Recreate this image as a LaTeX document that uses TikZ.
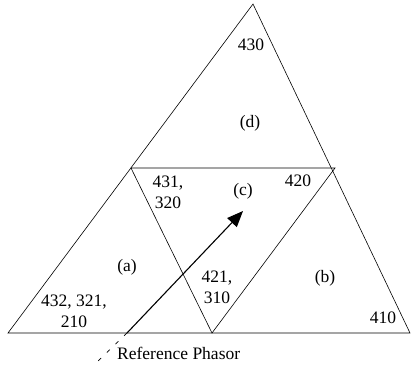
\documentclass[tikz,border=0pt]{standalone}
\usepackage{fontspec}
\setmainfont{Liberation Serif}
\usetikzlibrary{arrows.meta}

\begin{document}
\begin{tikzpicture}[x=1pt,y=-1pt,
  lbl/.style={font=\fontsize{17.5}{21}\selectfont,align=center,inner sep=0pt},
  side/.style={line width=0.6pt}]
  \useasboundingbox (0,0) rectangle (413,368);
  % corners of the triangles
  \coordinate (top) at (253,4);
  \coordinate (bl) at (8,333);
  \coordinate (br) at (410,333);
  \coordinate (ml) at (131,168);
  \coordinate (mr) at (335,168);
  \coordinate (bm) at (212,333);
  % phasor
  \coordinate (tail) at (127,333);
  \coordinate (head) at (243,211);
  \coordinate (far) at (93,366);
  \draw[side] (top) -- (br) -- (bl) -- cycle;
  \draw[side] (ml) -- (mr) -- (bm) -- cycle;
  \draw[-{Triangle[length=16pt,width=13pt]},line width=1.1pt] (tail) -- (head);
  \draw[line width=0.7pt,dash pattern=on 4pt off 8pt] (tail) -- (far);
  % sector labels
  \node[lbl] (n430) at (251,45) {430};
  \node[lbl] (secd) at (250,123) {(d)};
  \node[lbl] (n431) at (168,192) {431,\\320};
  \node[lbl] (secc) at (243,191) {(c)};
  \node[lbl] (n420) at (298,181) {420};
  \node[lbl] (seca) at (127,267) {(a)};
  \node[lbl] (n421) at (217,287) {421,\\310};
  \node[lbl] (secb) at (325,278) {(b)};
  \node[lbl] (n432) at (74,311) {432, 321,\\210};
  \node[lbl] (n410) at (383,318) {410};
  \node[lbl,anchor=west] (ref) at (117,353) {Reference Phasor};
\end{tikzpicture}
\end{document}
